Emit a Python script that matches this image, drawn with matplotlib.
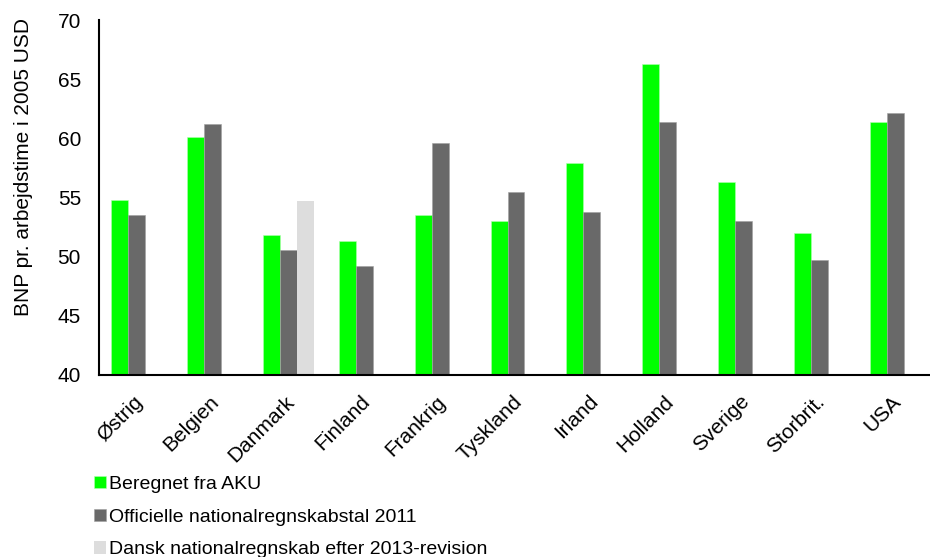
import matplotlib
matplotlib.use("Agg")
import matplotlib.pyplot as plt
import matplotlib.transforms as mtransforms
import numpy as np

plt.rcParams['font.family'] = ['Liberation Sans', 'DejaVu Sans']

categories = ["Østrig", "Belgien", "Danmark", "Finland", "Frankrig", "Tyskland",
              "Irland", "Holland", "Sverige", "Storbrit.", "USA"]
aku = [54.8, 60.1, 51.8, 51.3, 53.5, 53.0, 57.9, 66.3, 56.3, 52.0, 61.4]
officielle = [53.5, 61.2, 50.6, 49.2, 59.6, 55.5, 53.8, 61.4, 53.0, 49.7, 62.1]
dansk_2013 = [None, None, 54.7, None, None, None, None, None, None, None, None]

series_names = ["Beregnet fra AKU", "Officielle nationalregnskabstal 2011",
                "Dansk nationalregnskab efter 2013-revision"]
colors = ["#00FF00", "#696969", "#DDDDDD"]

fig = plt.figure(figsize=(9.30, 5.57), dpi=100)
ax = fig.add_axes([99/930, 1 - 375/557, (933-99)/930, (375-20)/557])

x = np.arange(len(categories))
w = 17/76
base = 40
ax.bar(x - w, np.array(aku) - base, w, bottom=base, color=colors[0],
       label=series_names[0], edgecolor='#B0FFB0', linewidth=0.4)
ax.bar(x, np.array(officielle) - base, w, bottom=base, color=colors[1],
       label=series_names[1], edgecolor='#A0A0A0', linewidth=0.4)
dx = [i for i, v in enumerate(dansk_2013) if v is not None]
dv = [v - base for v in dansk_2013 if v is not None]
ax.bar(np.array(dx) + w, dv, w, bottom=base, color=colors[2],
       label=series_names[2], linewidth=0)

ax.set_xlim(-0.5, len(categories) - 0.5)
ax.set_ylim(40, 70)
ax.set_yticks(np.arange(40, 71, 5))
ax.set_ylabel("BNP pr. arbejdstime i 2005 USD", fontsize=15, va='center')
ax.yaxis.set_label_coords(-0.091, 0.586)
ax.tick_params(axis='y', labelsize=15, length=0, pad=13)
ax.tick_params(axis='x', length=0, labelsize=15, pad=17)
ax.set_xticks(x)
ax.set_xticklabels(categories, rotation=45, ha='right', va='center', rotation_mode='anchor')
offset = mtransforms.ScaledTranslation(3/100, 0, fig.dpi_scale_trans)
for lab in ax.get_xticklabels():
    lab.set_transform(lab.get_transform() + offset)

for s in ['top', 'right']:
    ax.spines[s].set_visible(False)
ax.spines['left'].set_linewidth(1.5)
ax.spines['bottom'].set_linewidth(1.5)

fig.legend(loc='upper left', bbox_to_anchor=(94/930, 1 - 476/557), frameon=False,
           fontsize=14, handlelength=0.6, handleheight=0.6, handletextpad=0.15,
           labelspacing=0.8, borderaxespad=0, borderpad=0)

fig.savefig("out.png", dpi=100)
